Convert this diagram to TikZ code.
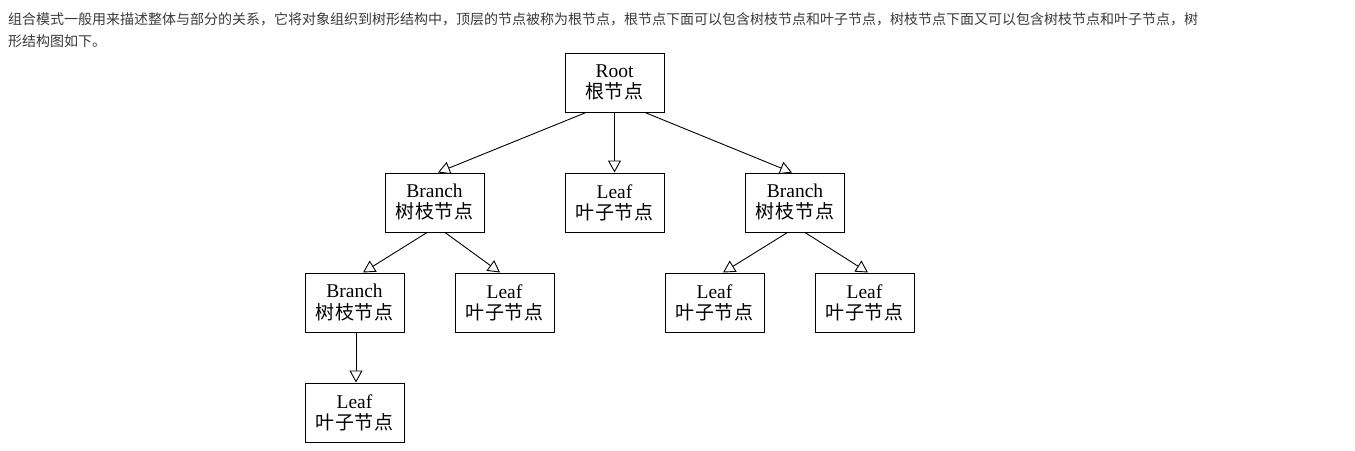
\documentclass[tikz,border=0pt]{standalone}
\usepackage{fontspec}
\setmainfont{Liberation Serif}
\newfontfamily\cjk{Noto Sans CJK SC}
\newfontfamily\cjkbox[LetterSpace=5]{Noto Sans CJK SC}
\usetikzlibrary{arrows.meta}
\definecolor{headgray}{HTML}{3A3A3A}
\tikzset{
  box/.style={draw=black, line width=1pt, minimum width=99pt, minimum height=59pt,
    inner sep=0pt, align=center, font=\fontsize{19.5}{21}\selectfont},
  arr/.style={line width=0.9pt, -{Triangle[length=12pt,width=13pt,fill=white,line width=0.9pt]}},
  head/.style={anchor=base west, inner sep=0pt, text=headgray, font=\cjk\fontsize{14}{22}\selectfont}
}
\begin{document}
\begin{tikzpicture}[x=1pt,y=-1pt]
\useasboundingbox[fill=white] (0,0) rectangle (1355,450);
\node[head] (h1) at (8,24.5) {组合模式一般用来描述整体与部分的关系，它将对象组织到树形结构中，顶层的节点被称为根节点，根节点下面可以包含树枝节点和叶子节点，树枝节点下面又可以包含树枝节点和叶子节点，树};
\node[head] (h2) at (8,46.5) {形结构图如下。};

\node[box] (root) at (614.5,82.5) {Root\\{\cjkbox\fontsize{19}{21}\selectfont 根节点}};
\node[box] (bl) at (434.5,202.5) {Branch\\{\cjkbox\fontsize{19}{21}\selectfont 树枝节点}};
\node[box] (lm) at (614.5,202.5) {Leaf\\{\cjkbox\fontsize{19}{21}\selectfont 叶子节点}};
\node[box] (br) at (795,202.5) {Branch\\{\cjkbox\fontsize{19}{21}\selectfont 树枝节点}};
\node[box] (b3) at (354.5,302.5) {Branch\\{\cjkbox\fontsize{19}{21}\selectfont 树枝节点}};
\node[box] (l3a) at (504.5,302.5) {Leaf\\{\cjkbox\fontsize{19}{21}\selectfont 叶子节点}};
\node[box] (l3b) at (714.5,302.5) {Leaf\\{\cjkbox\fontsize{19}{21}\selectfont 叶子节点}};
\node[box] (l3c) at (864.5,302.5) {Leaf\\{\cjkbox\fontsize{19}{21}\selectfont 叶子节点}};
\node[box] (l4) at (354.5,412.5) {Leaf\\{\cjkbox\fontsize{19}{21}\selectfont 叶子节点}};

\draw[arr] ([xshift=-28.5pt]root.south) -- ([xshift=3.5pt]bl.north);
\draw[arr] (root.south) -- (lm.north);
\draw[arr] ([xshift=30.5pt]root.south) -- ([xshift=-3pt]br.north);
\draw[arr] ([xshift=-7.5pt]bl.south) -- ([xshift=8.5pt]b3.north);
\draw[arr] ([xshift=10.5pt]bl.south) -- ([xshift=-4.5pt]l3a.north);
\draw[arr] ([xshift=1.5pt]b3.south) -- ([xshift=1.5pt]l4.north);
\draw[arr] ([xshift=-7.5pt]br.south) -- ([xshift=8.5pt]l3b.north);
\draw[arr] ([xshift=10pt]br.south) -- ([xshift=3.5pt]l3c.north);
\end{tikzpicture}
\end{document}
